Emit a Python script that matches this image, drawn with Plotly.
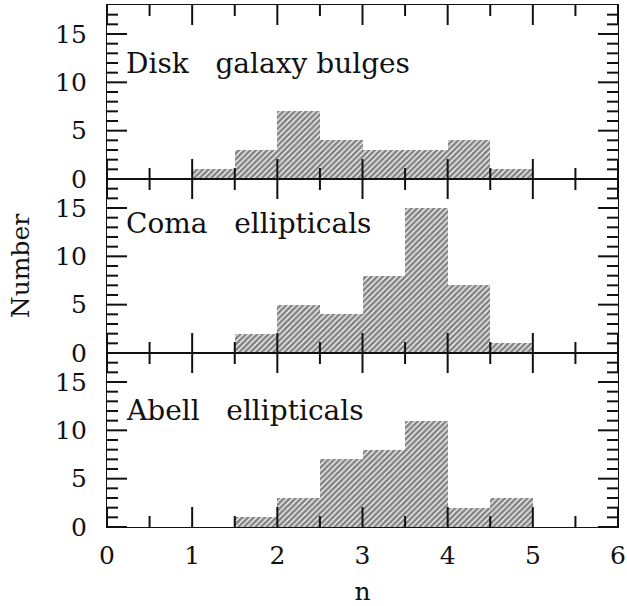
import plotly.graph_objects as go
from plotly.subplots import make_subplots

# Histogram bins in the Sersic index n (width 0.5)
bin_left = [1.0, 1.5, 2.0, 2.5, 3.0, 3.5, 4.0, 4.5]
bin_width = 0.5

# Counts per bin for each sample
disk_bulges = [1, 3, 7, 4, 3, 3, 4, 1]
coma_ellipticals = [0, 2, 5, 4, 8, 15, 7, 1]
abell_ellipticals = [0, 1, 3, 7, 8, 11, 2, 3]

panel_names = ["Disk\u00a0\u00a0\u00a0galaxy bulges",
               "Coma\u00a0\u00a0\u00a0ellipticals",
               "Abell\u00a0\u00a0\u00a0ellipticals"]
panel_label_y = [12.0, 13.4, 12.1]

# Axis ticks: labelled major ticks and unlabelled minor ticks
x_major = [0, 1, 2, 3, 4, 5, 6]
x_minor = [0.5, 1.5, 2.5, 3.5, 4.5, 5.5]
y_major = [0, 5, 10, 15]
y_minor = [1, 2, 3, 4, 6, 7, 8, 9, 11, 12, 13, 14, 16, 17]

X_RANGE = [0, 6]
Y_RANGE = [0, 18]
MAJOR_LEN = 20   # tick length in pixels
MINOR_LEN = 11

FONT = "DejaVu Serif"
INK = "#111111"

fig = make_subplots(rows=3, cols=1, shared_xaxes=True, vertical_spacing=0)

centers = [b + bin_width / 2 for b in bin_left]
for row, counts in enumerate([disk_bulges, coma_ellipticals, abell_ellipticals], start=1):
    fig.add_trace(
        go.Bar(
            x=centers,
            y=counts,
            width=bin_width,
            marker=dict(
                color="white",
                line=dict(width=0),
                pattern=dict(shape="/", fgcolor="#0a0a0a", bgcolor="white",
                             size=4, solidity=0.7),
            ),
            showlegend=False,
            hoverinfo="skip",
        ),
        row=row, col=1,
    )
    suffix = "" if row == 1 else str(row)
    fig.add_annotation(
        x=0.2, y=panel_label_y[row - 1], xref="x" + suffix, yref="y" + suffix,
        text=panel_names[row - 1], showarrow=False,
        xanchor="left", yanchor="middle",
        font=dict(family=FONT, size=28, color=INK),
    )

# Frame lines and tick labels come from the axes themselves
for row in range(1, 4):
    fig.update_xaxes(
        range=X_RANGE, tickmode="array", tickvals=x_major, ticks="",
        showline=True, linecolor=INK, linewidth=1.3, mirror=True,
        showgrid=False, zeroline=False, automargin=False,
        tickfont=dict(family=FONT, size=25, color=INK), ticklabelstandoff=6,
        row=row, col=1,
    )
    fig.update_yaxes(
        range=Y_RANGE, tickmode="array", tickvals=y_major, ticks="",
        showline=True, linecolor=INK, linewidth=1.3, mirror=True,
        showgrid=False, zeroline=False, automargin=False,
        tickfont=dict(family=FONT, size=25, color=INK), ticklabelstandoff=14,
        row=row, col=1,
    )

# Inward-pointing tick marks on all four sides of every panel, placed at the
# tick values through each panel's axes with pixel lengths.
tick_line = dict(color=INK, width=2)
for row in range(1, 4):
    suffix = "" if row == 1 else str(row)
    xr, yr = "x" + suffix, "y" + suffix
    for vals, length in [(x_major, MAJOR_LEN), (x_minor, MINOR_LEN)]:
        for v in vals:
            for anchor, sign in [(Y_RANGE[0], 1), (Y_RANGE[1], -1)]:
                fig.add_shape(type="line", xref=xr, yref=yr, x0=v, x1=v,
                              ysizemode="pixel", yanchor=anchor,
                              y0=0, y1=sign * length, line=tick_line, layer="above")
    for vals, length in [(y_major, MAJOR_LEN), (y_minor, MINOR_LEN)]:
        for v in vals:
            for anchor, sign in [(X_RANGE[0], 1), (X_RANGE[1], -1)]:
                fig.add_shape(type="line", xref=xr, yref=yr, y0=v, y1=v,
                              xsizemode="pixel", xanchor=anchor,
                              x0=0, x1=sign * length, line=tick_line, layer="above")

fig.layout.xaxis3.title = dict(text="n", font=dict(family=FONT, size=25, color=INK),
                               standoff=22)

fig.add_annotation(
    x=-0.17, y=0.5, xref="paper", yref="paper", text="Number", showarrow=False,
    xanchor="center", yanchor="middle", textangle=-90,
    font=dict(family=FONT, size=25, color=INK),
)

fig.update_layout(
    width=627, height=606,
    margin=dict(l=107, r=9, t=5, b=79),
    paper_bgcolor="white", plot_bgcolor="white",
    bargap=0,
)

fig.write_html("out.html")
